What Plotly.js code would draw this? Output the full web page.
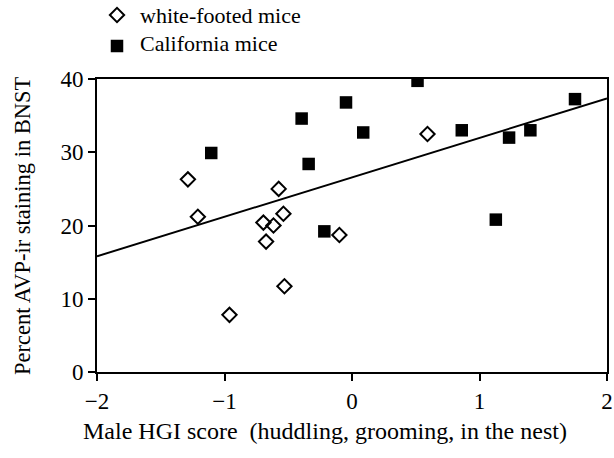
<!DOCTYPE html>
<html>
<head>
<meta charset="utf-8">
<script src="https://cdn.plot.ly/plotly-3.0.1.min.js"></script>
<style>html,body{margin:0;padding:0;background:#fff;}#chart{width:614px;height:458px;}</style>
</head>
<body>
<div id="chart"></div>
<script>
// White-footed mice (open diamonds)
const wfX = [-1.287, -1.209, -0.961, -0.575, -0.538, -0.695, -0.616, -0.674, -0.530, -0.099, 0.592];
const wfY = [26.3, 21.2, 7.8, 25.0, 21.6, 20.4, 20.0, 17.8, 11.7, 18.7, 32.5];
// California mice (filled squares)
const caX = [-1.104, -0.395, -0.340, -0.217, -0.047, 0.088, 0.514, 0.861, 1.232, 1.399, 1.128, 1.749];
const caY = [29.9, 34.6, 28.4, 19.2, 36.8, 32.7, 39.75, 33.0, 32.0, 33.0, 20.8, 37.25];
// Regression line endpoints
const fitX = [-2, 2];
const fitY = [15.8, 37.35];
const xTicks = [-2, -1, 0, 1, 2];
const yTicks = [0, 10, 20, 30, 40];
const seriesNames = ['white-footed mice', 'California mice'];
const xTitle = 'Male HGI score  (huddling, grooming, in the nest)';
const yTitle = 'Percent AVP-ir staining in BNST';

const font = 'Liberation Serif, Times New Roman, serif';
const data = [
  {x: fitX, y: fitY, mode: 'lines', line: {color: '#000', width: 2}, showlegend: false, hoverinfo: 'skip'},
  {x: wfX, y: wfY, mode: 'markers', name: ' ', legendgroup: 'a',
   marker: {symbol: 'diamond-open', size: 11, color: '#000', line: {width: 2, color: '#000'}}},
  {x: caX, y: caY, mode: 'markers', name: ' ', legendgroup: 'b',
   marker: {symbol: 'square', size: 12.5, color: '#000', line: {width: 0}}}
];
const layout = {
  width: 614, height: 458,
  margin: {l: 97.4, r: 7, t: 79, b: 86.3, autoexpand: false},
  paper_bgcolor: '#fff', plot_bgcolor: '#fff',
  font: {family: font, color: '#000', size: 20},
  showlegend: true,
  legend: {x: 0, y: 1.285, xanchor: 'left', yanchor: 'top', traceorder: 'grouped', tracegroupgap: 2,
           font: {family: font, size: 20, color: '#000'}, bgcolor: 'rgba(0,0,0,0)'},
  xaxis: {range: [-2, 2], tickvals: xTicks, ticks: 'outside', ticklen: 7, tickwidth: 2, tickcolor: '#000',
          showline: true, linewidth: 2, linecolor: '#000', mirror: true, showgrid: false, zeroline: false,
          tickfont: {family: font, size: 23}},
  yaxis: {range: [0, 40], tickvals: yTicks, ticks: 'outside', ticklen: 7, tickwidth: 2, tickcolor: '#000',
          showline: true, linewidth: 2, linecolor: '#000', mirror: true, showgrid: false, zeroline: false,
          tickfont: {family: font, size: 23}},
  annotations: [
    {text: xTitle, xref: 'paper', yref: 'paper', x: 0.4466, y: (371.7 - 431) / 292.7, xanchor: 'center', yanchor: 'middle',
     showarrow: false, font: {family: font, size: 24, color: '#000'}},
    {text: yTitle, xref: 'paper', yref: 'paper', x: (23 - 97.4) / 509.6, y: 0.5, xanchor: 'center', yanchor: 'middle',
     textangle: -90, showarrow: false, font: {family: font, size: 22.5, color: '#000'}},
    {text: seriesNames[0], xref: 'paper', yref: 'paper', x: (138 - 97.4) / 509.6, y: (371.7 - 16) / 292.7, xanchor: 'left', yanchor: 'middle',
     showarrow: false, font: {family: font, size: 22, color: '#000'}},
    {text: seriesNames[1], xref: 'paper', yref: 'paper', x: (138 - 97.4) / 509.6, y: (371.7 - 44) / 292.7, xanchor: 'left', yanchor: 'middle',
     showarrow: false, font: {family: font, size: 22, color: '#000'}}
  ]
};
Plotly.newPlot('chart', data, layout, {displayModeBar: false, staticPlot: true});
</script>
</body>
</html>
